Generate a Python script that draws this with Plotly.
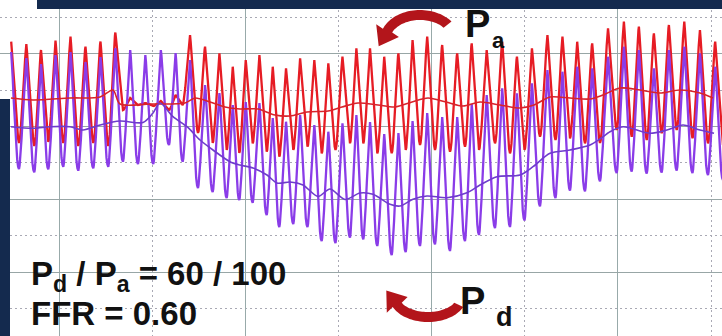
import numpy as np
import plotly.graph_objects as go

# ---------------- data (time / pressure in chart units) ----------------
# beat onsets (diastolic foot of each beat); last value closes the final beat
beat_onset = [4, 19, 34.3, 48.3, 63.3, 78.3, 93.3, 108.3, 123, 138, 153.3, 169, 182.7,
              198, 212.7, 226.7, 239.3, 252.7, 266.7, 279.3, 293.3, 307.5, 321.7, 335.5,
              350, 363.3, 377.3, 391.7, 405.7, 420, 435, 450, 465, 479, 495, 510, 524.5,
              540, 555.5, 570, 585, 600, 616.7, 631.7, 646.7, 661.7, 676.7, 692.5, 708, 723]

# aortic pressure Pa: diastolic minimum at each onset, systolic peak of each beat
pa_trough = [193, 193, 190, 194, 193, 190, 193, 190, 226, 231, 230, 226, 231,
             203, 193, 186, 183, 192.7, 184.3, 179.3, 186, 189.3, 182.7, 186,
             192.7, 192.7, 182.7, 182.7, 186, 191, 186, 184.3, 189.3, 186, 192.7, 182.7, 186,
             199.3, 196, 197.7, 192.7, 193, 206, 199.3, 196, 202.7, 206, 197.7, 192.7, 191]
pa_peak = [294.3, 292, 286, 295.5, 299.3, 289.3, 294.5, 303.5, 238, 233, 235, 241, 301,
           289.3, 282.7, 269.3, 276, 281, 269.3, 267.7, 277.7, 276, 272.7, 279.3,
           287.7, 287.7, 279.3, 282.7, 296, 299.3, 291, 282.7, 292.7, 286, 294.3, 279.3, 287.7,
           301, 299.3, 294.3, 292.7, 307.7, 314.3, 309.3, 302.7, 311, 314.3, 306, 294.3]

# distal pressure Pd
pd_trough = [167, 167, 163.7, 166.7, 169.3, 165.3, 167.7, 169.3, 174.3, 172, 172, 191, 174.3,
             148, 144, 138, 136, 133.3, 121, 109, 112, 109, 95, 93,
             98.5, 96.7, 90, 81, 84, 90, 91.7, 85, 95, 101, 108, 109, 115.5,
             129.7, 138, 145.5, 144.7, 154.7, 163, 164.5, 162.5, 163.5, 165.5, 163, 161, 156]
pd_peak = [284, 278, 272, 281, 284, 274, 279, 288, 286, 281, 286, 283, 276,
           251, 243, 231, 234, 233, 218, 214.3, 221, 211, 204.3, 212.7,
           221, 214, 202, 203, 215, 223, 219, 219, 232, 241, 247.7, 242.7, 252.7,
           266, 264.3, 269.3, 267.7, 279.3, 289.3, 286, 267.7, 286, 289.3, 282.7, 269.3]

# running mean pressures
pa_mean_t = [11, 33, 70, 100, 113, 120, 150, 185, 195, 210, 225, 240, 258, 275, 290, 307,
             328, 342, 358, 378, 395, 412, 428, 446, 463, 480, 500, 520, 534, 550, 570,
             590, 603, 620, 640, 660, 680, 700, 713]
pa_mean = [238, 236, 238, 239, 246, 232, 232, 233, 238, 234, 229, 227, 227, 221, 220, 224,
           225, 229, 233, 231, 229, 234, 238, 234, 230, 234, 231, 228, 231, 239, 238,
           237, 241, 248, 246, 243, 246, 243, 238]
pd_mean_t = [11, 33, 50, 70, 83, 100, 120, 143, 153, 160, 173, 187, 200, 213, 230, 240,
             253, 267, 277, 290, 303, 318, 330, 345, 360, 373, 390, 400, 413, 427, 447,
             467, 480, 497, 520, 533, 550, 570, 590, 600, 610, 623, 650, 667, 683, 700, 714]
pd_mean = [209.3, 207.7, 209.3, 209.3, 206, 211, 215, 213.5, 223, 233, 219.3, 209.3, 196,
           186, 174.3, 171, 168, 161, 153, 154, 151, 139.5, 147, 136.5, 143, 141.7, 131.7,
           130, 136.7, 140, 138.3, 143.3, 151, 159.3, 161, 169.3, 182.7, 186, 191, 197,
           204.3, 209.3, 202.7, 206, 211, 206, 202.7]

# normalised single-beat waveform shapes (phase within beat -> fraction of pulse)
shape_phase = [0.00, 0.04, 0.10, 0.17, 0.25, 0.33, 0.40, 0.45, 0.48, 0.52, 0.58, 0.65, 0.73, 0.81, 0.88, 0.94, 1.00]
pa_shape = [0.00, 0.02, 0.10, 0.25, 0.45, 0.66, 0.85, 0.97, 1.00, 0.93, 0.80, 0.66, 0.50, 0.32, 0.15, 0.04, 0.00]
pd_shape = [0.00, 0.03, 0.12, 0.28, 0.48, 0.68, 0.86, 0.97, 1.00, 0.94, 0.78, 0.58, 0.38, 0.20, 0.08, 0.02, 0.00]
trace_start = 11


def build_wave(onset, trough, peak, shape):
    ph = np.array(shape_phase)
    sh = np.array(shape)
    k = int(np.argmax(sh))
    xs, ys = [], []
    n = len(peak)
    for i in range(n):
        t0, t1 = onset[i], onset[i + 1]
        for j in range(len(ph)):
            if j == len(ph) - 1 and i < n - 1:
                continue
            base = trough[i] if j <= k else trough[i + 1]
            x = t0 + ph[j] * (t1 - t0)
            if x < trace_start:
                continue
            xs.append(x)
            ys.append(base + sh[j] * (peak[i] - base))
    return xs, ys


pa_x, pa_y = build_wave(beat_onset, pa_trough, pa_peak, pa_shape)
pd_x, pd_y = build_wave(beat_onset, pd_trough, pd_peak, pd_shape)

RED = "#e61c24"
PURPLE = "#8a3ce8"
NAVY = "#142a4e"
ARROW = "#b3151b"

fig = go.Figure()
fig.add_trace(go.Scatter(x=pa_x, y=pa_y, mode="lines", line=dict(color=RED, width=2.3), hoverinfo="skip"))
fig.add_trace(go.Scatter(x=pd_x, y=pd_y, mode="lines", line=dict(color=PURPLE, width=2.3), hoverinfo="skip"))
fig.add_trace(go.Scatter(x=pa_mean_t, y=pa_mean, mode="lines",
                         line=dict(color="#d8232b", width=1.6, shape="spline", smoothing=0.8), hoverinfo="skip"))
fig.add_trace(go.Scatter(x=pd_mean_t, y=pd_mean, mode="lines",
                         line=dict(color="#6e3ccc", width=1.6, shape="spline", smoothing=0.8), hoverinfo="skip"))


def arc_arrow(cx, cy, rx, ry, a0, a1, w, head_len, head_w):
    """curved block arrow; geometry in screen px (y down) converted to axis units"""
    th = np.radians(np.linspace(a0, a1, 40))
    outer = [(cx + (rx + w / 2) * np.cos(t), cy + (ry + w / 2) * np.sin(t)) for t in th]
    inner = [(cx + (rx - w / 2) * np.cos(t), cy + (ry - w / 2) * np.sin(t)) for t in th]
    t1 = th[-1]
    sgn = np.sign(a1 - a0)
    tx, ty = -rx * np.sin(t1) * sgn, ry * np.cos(t1) * sgn
    nrm = np.hypot(tx, ty)
    tx, ty = tx / nrm, ty / nrm
    ex, ey = cx + rx * np.cos(t1), cy + ry * np.sin(t1)
    px, py = ty, -tx
    tip = (ex + tx * head_len, ey + ty * head_len)
    b1 = (ex + px * head_w, ey + py * head_w)
    b2 = (ex - px * head_w, ey - py * head_w)
    if np.dot([px, py], [outer[-1][0] - ex, outer[-1][1] - ey]) < 0:
        b1, b2 = b2, b1
    pts = outer + [b1, tip, b2] + inner[::-1]
    return "M " + " L ".join(f"{x:.1f},{336 - y:.1f}" for x, y in pts) + " Z"


shapes = [
    dict(type="rect", xref="paper", yref="paper", x0=37 / 722, x1=1, y0=1 - 9 / 336, y1=1,
         fillcolor=NAVY, line=dict(width=0), layer="above"),
    dict(type="rect", xref="paper", yref="paper", x0=0, x1=10 / 722, y0=0, y1=1 - 99 / 336,
         fillcolor=NAVY, line=dict(width=0), layer="above"),
    dict(type="path", xref="x", yref="y", path=arc_arrow(420, 40, 35, 25, -38, -158, 10, 18, 13),
         fillcolor=ARROW, line=dict(width=0), layer="above"),
    dict(type="path", xref="x", yref="y", path=arc_arrow(428, 296, 34, 21, 25, 155, 10, 18, 13),
         fillcolor=ARROW, line=dict(width=0), layer="above"),
]

FONT = "Liberation Sans, Arial, sans-serif"
ann = [
    dict(x=463, y=312.5, text="<b>P</b>", font=dict(size=38, color="#111", family=FONT)),
    dict(x=490, y=295.7, text="<b>a</b>", font=dict(size=22, color="#111", family=FONT)),
    dict(x=458, y=35, text="<b>P</b>", font=dict(size=38, color="#111", family=FONT)),
    dict(x=494, y=19, text="<b>d</b>", font=dict(size=27, color="#111", family=FONT)),
    dict(x=29, y=60, text="<b>P<sub>d</sub> / P<sub>a</sub> = 60 / 100</b>", font=dict(size=33, color="#111", family=FONT)),
    dict(x=29, y=23, text="<b>FFR = 0.60</b>", font=dict(size=33, color="#111", family=FONT)),
]
for a in ann:
    a.update(xref="x", yref="y", xanchor="left", yanchor="middle", showarrow=False)

fig.update_layout(
    width=722, height=336, margin=dict(l=0, r=0, t=0, b=0),
    paper_bgcolor="white", plot_bgcolor="white", showlegend=False,
    shapes=shapes, annotations=ann,
    xaxis=dict(range=[0, 722], showticklabels=False, ticks="", zeroline=False, showline=False,
               showgrid=True, tick0=59, dtick=186.29, gridcolor="#98aaaa", gridwidth=1.4,
               minor=dict(showgrid=True, tick0=59, dtick=93.145, gridcolor="#a9a9b4",
                          gridwidth=1.4, griddash="2px,3px")),
    yaxis=dict(range=[0, 336], showticklabels=False, ticks="", zeroline=False, showline=False,
               showgrid=True, tick0=64, dtick=72.75, gridcolor="#98a6a6", gridwidth=1.4,
               minor=dict(showgrid=True, tick0=64, dtick=36.375, gridcolor="#a9a9b4",
                          gridwidth=1.4, griddash="2px,3px")),
)

fig.write_html("out.html", config={"displayModeBar": False},
               post_script="document.body.style.margin='0';document.body.style.overflow='hidden';")
